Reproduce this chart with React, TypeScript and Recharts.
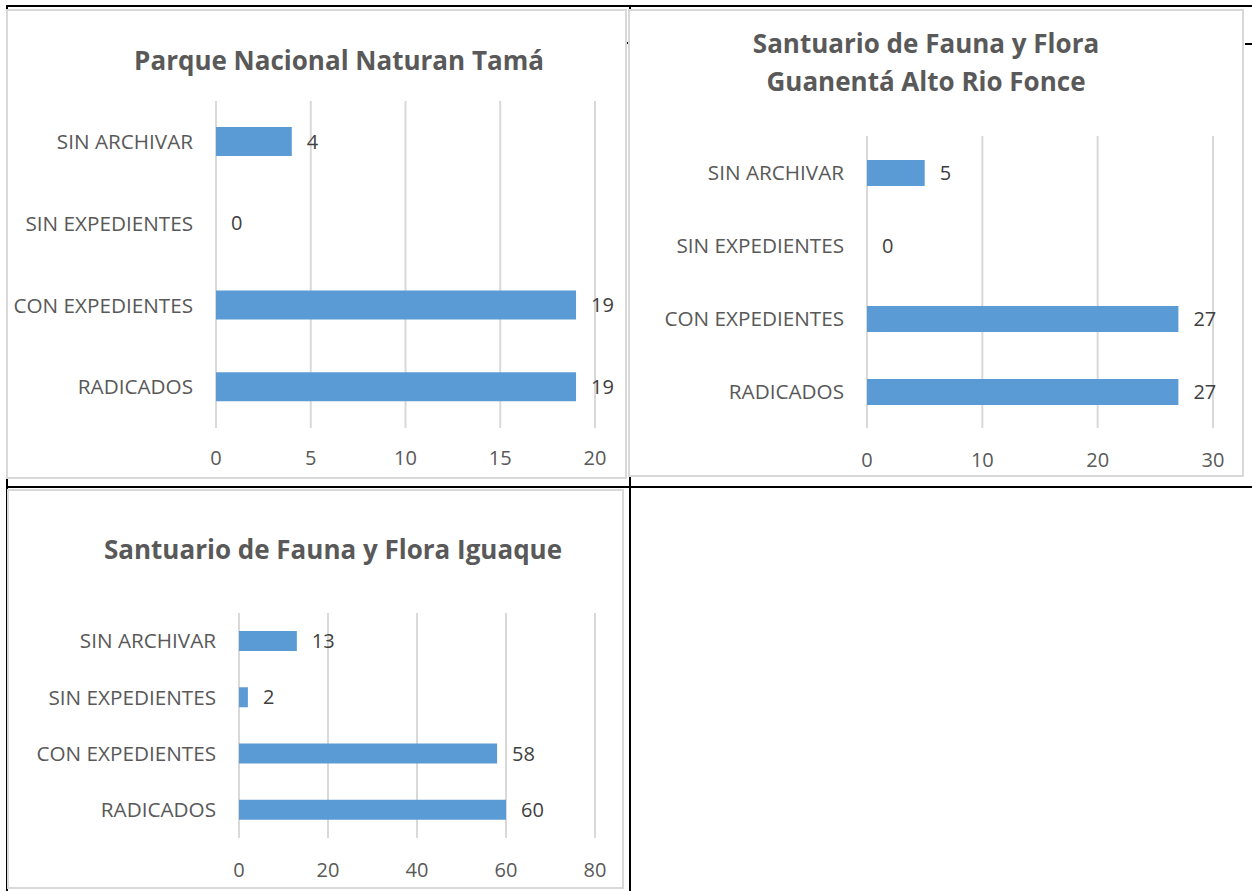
import { BarChart, Bar, XAxis, YAxis, CartesianGrid, LabelList } from 'recharts';

const categories = ['SIN ARCHIVAR', 'SIN EXPEDIENTES', 'CON EXPEDIENTES', 'RADICADOS'];

const tamaValues = [4, 0, 19, 19];
const fonceValues = [5, 0, 27, 27];
const iguaqueValues = [13, 2, 58, 60];

const tamaTicks = [0, 5, 10, 15, 20];
const fonceTicks = [0, 10, 20, 30];
const iguaqueTicks = [0, 20, 40, 60, 80];

const FONT = '"Open Sans", sans-serif';
const BAR = '#5b9bd5';
const GRID = '#d9d9d9';

interface PanelProps {
  left: number;
  top: number;
  width: number;
  height: number;
  title: string[];
  titleX: number;
  titleY: number;
  values: number[];
  ticks: number[];
  plot: { left: number; right: number; top: number; bottom: number };
  barSize: number;
  tickGap: number;
}

function Panel({ left, top, width, height, title, titleX, titleY, values, ticks, plot, barSize, tickGap }: PanelProps) {
  const rows = categories.map((name, i) => ({ name, value: values[i] }));
  return (
    <div
      style={{
        position: 'absolute',
        left,
        top,
        width,
        height,
        background: '#fff',
        boxShadow: `inset 0 0 0 2px ${GRID}`,
      }}
    >
      <div
        style={{
          position: 'absolute',
          left: titleX - 250,
          top: titleY - 19 * title.length,
          width: 500,
          textAlign: 'center',
          fontFamily: FONT,
          fontWeight: 700,
          fontSize: 26,
          lineHeight: '38px',
          color: '#595959',
        }}
      >
        {title.map((t) => (
          <div key={t}>{t}</div>
        ))}
      </div>
      <div style={{ position: 'absolute', left: 0, top: 0 }}>
        <BarChart
          width={width}
          height={height}
          data={rows}
          layout="vertical"
          margin={{ top: plot.top, right: plot.right, bottom: 0, left: 0 }}
        >
          <CartesianGrid horizontal={false} stroke={GRID} strokeWidth={2} />
          <XAxis
            type="number"
            domain={[0, ticks[ticks.length - 1]]}
            ticks={ticks}
            interval={0}
            axisLine={false}
            tickLine={false}
            tickSize={0}
            tickMargin={tickGap}
            height={plot.bottom}
            tick={{ fill: '#595959', fontSize: 20, fontFamily: FONT }}
          />
          <YAxis
            type="category"
            dataKey="name"
            width={plot.left}
            axisLine={false}
            tickLine={false}
            tickSize={0}
            tickMargin={23}
            interval={0}
            tick={{ fill: '#595959', fontSize: 20.7, fontFamily: FONT }}
          />
          <Bar dataKey="value" fill={BAR} barSize={barSize} minPointSize={0.01} isAnimationActive={false}>
            <LabelList
              dataKey="value"
              position="right"
              offset={15}
              style={{ fill: '#404040', fontSize: 20, fontFamily: FONT }}
            />
          </Bar>
        </BarChart>
      </div>
    </div>
  );
}

function Line({ x, y, w, h }: { x: number; y: number; w: number; h: number }) {
  return <div style={{ position: 'absolute', left: x, top: y, width: w, height: h, background: '#000' }} />;
}

export default function App() {
  return (
    <div style={{ position: 'absolute', left: 0, top: 0, width: 1252, height: 891, background: '#fff', overflow: 'hidden' }}>
      <Line x={6} y={5} w={1246} h={2} />
      <Line x={6} y={5} w={2} h={886} />
      <Line x={629} y={5} w={2} h={886} />
      <Line x={6} y={486} w={1246} h={2} />
      <Line x={626} y={42} w={3} h={2} />
      <Line x={1245} y={43} w={7} h={2} />
      <Panel
        left={6}
        top={9}
        width={621}
        height={470}
        title={['Parque Nacional Naturan Tamá']}
        titleX={333}
        titleY={51}
        values={tamaValues}
        ticks={tamaTicks}
        plot={{ left: 210, right: 32, top: 92, bottom: 51 }}
        barSize={29}
        tickGap={23}
      />
      <Panel
        left={628}
        top={9}
        width={616}
        height={468}
        title={['Santuario de Fauna y Flora', 'Guanentá Alto Rio Fonce']}
        titleX={298}
        titleY={53}
        values={fonceValues}
        ticks={fonceTicks}
        plot={{ left: 239, right: 31, top: 127, bottom: 49 }}
        barSize={26}
        tickGap={25}
      />
      <Panel
        left={7}
        top={489}
        width={617}
        height={400}
        title={['Santuario de Fauna y Flora Iguaque']}
        titleX={326}
        titleY={60}
        values={iguaqueValues}
        ticks={iguaqueTicks}
        plot={{ left: 232, right: 29, top: 124, bottom: 51 }}
        barSize={20}
        tickGap={25}
      />
    </div>
  );
}
